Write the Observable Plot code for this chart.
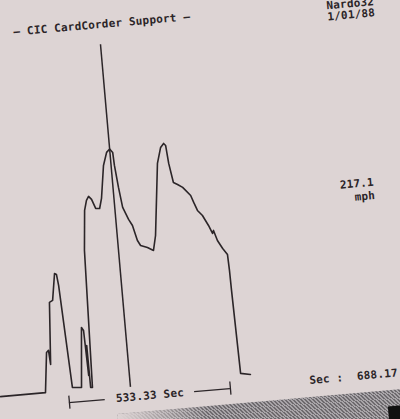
<!DOCTYPE html>
<html><head><meta charset="utf-8">
<script src="https://cdn.jsdelivr.net/npm/d3@7"></script>
<script src="https://cdn.jsdelivr.net/npm/@observablehq/plot@0.6"></script>
<style>
html,body{margin:0;padding:0;width:400px;height:419px;overflow:hidden;background:#ddd4d4;}
#screen{position:absolute;left:-40px;top:-40px;width:480px;height:500px;transform-origin:240px 250px;transform:rotate(-5deg);background:#ddd4d4;}
#screen svg{position:absolute;left:0;top:0;}
#bezel{position:absolute;left:140px;top:446px;width:340px;height:54px;z-index:2;
  background:linear-gradient(to right,#ddd4d4 0px,rgba(221,212,212,0) 90px),repeating-linear-gradient(45deg,#6e6a6e 0 1.2px,#a8a4a8 1.2px 2.6px);}
#corner{position:absolute;left:410px;top:462px;width:70px;height:38px;background:#111;z-index:3;}
</style></head>
<body>
<div id="screen"><div id="bezel"></div><div id="corner"></div></div>
<script>
// Speed trace (time in seconds, speed in mph)
const seconds = [0,149,164,171,174,188,199,213,219,223,239,269,286,292,296,298,299,305,318,330,339,347,356,367,380,389,405,419,430,439,441,448,456,472,483,495,504,526,545,556,583,598,609,615,620,630,643,659,683,691,701,716,733,744,748,758,773,787,789,790,796,828];
const mph = [0,0,36.6,38.3,25.3,82.0,83.6,108.0,107.0,96.8,2.6,1.9,56.6,53.7,12.3,39.8,1.2,1.0,126.6,163.1,172.1,175.6,172.6,164.1,163.7,172.7,202.6,214.3,217.1,213.8,201.8,181.4,162.8,151.4,145.6,131.5,126.7,124.3,121.1,134.6,200.2,214.5,217.9,215.9,199.3,181.5,179.4,176.3,168.3,161.7,154.1,149.1,139.5,131.9,134.6,125.1,117.4,111.6,96.8,78.4,2.0,0.2];

// Cursor and readouts
const cursorTime = 430;
const cursorSpeed = 217.1;
const bracketSec = [224.84, 758.17];
const endSec = 688.17;

// Labels
const titleText = "— CIC CardCorder Support —";
const siteText = "Nardo32";
const dateText = "1/01/88";
const unitText = "mph";

const trace = seconds.map((t, i) => ({t, v: mph[i]}));
const span = (bracketSec[1] - bracketSec[0]).toFixed(2);
const mid = (bracketSec[0] + bracketSec[1]) / 2;
const gap = 148;
const bracketSegs = [{x1: bracketSec[0], x2: mid - gap}, {x1: mid + gap, x2: bracketSec[1]}];

const ink = "#2b2528";
const chart = Plot.plot({
  width: 480, height: 500, margin: 0,
  x: {domain: [-80.85, 1503.15], axis: null},
  y: {domain: [-75.09, 382.78], axis: null},
  style: {background: "transparent", maxWidth: "none", overflow: "visible",
          fontFamily: "'DejaVu Sans Mono', monospace", fontWeight: "bold",
          fontSize: "11px", letterSpacing: "0.2px", color: ink},
  marks: [
    Plot.line(trace, {x: "t", y: "v", stroke: ink, strokeWidth: 1.6}),
    Plot.ruleX([cursorTime], {y1: -2, y2: 313, stroke: ink, strokeWidth: 1.5}),
    Plot.ruleY(bracketSegs, {x1: "x1", x2: "x2", y: -11, stroke: ink, strokeWidth: 1.3}),
    Plot.ruleX(bracketSec, {y1: -5, y2: -17, stroke: ink, strokeWidth: 1.3}),
    Plot.text([`${span} Sec`], {x: mid, y: -11, text: d => d, fill: ink}),
    Plot.text([`Sec :  ${endSec.toFixed(2)}`], {x: 1020, y: -10, text: d => d, textAnchor: "start", fill: ink}),
    Plot.text([titleText], {x: 440, y: 331.5, text: d => d, fill: ink}),
    Plot.text([siteText, dateText], {x: 1184, y: (d, i) => i === 0 ? 330.5 : 320.3, text: d => d, textAnchor: "start", fill: ink}),
    Plot.text([cursorSpeed.toFixed(1), unitText], {x: 1289, y: (d, i) => i === 0 ? 165.8 : 153.6, text: d => d, textAnchor: "end", fill: ink})
  ]
});
document.getElementById("screen").prepend(chart);
</script>
</body></html>
